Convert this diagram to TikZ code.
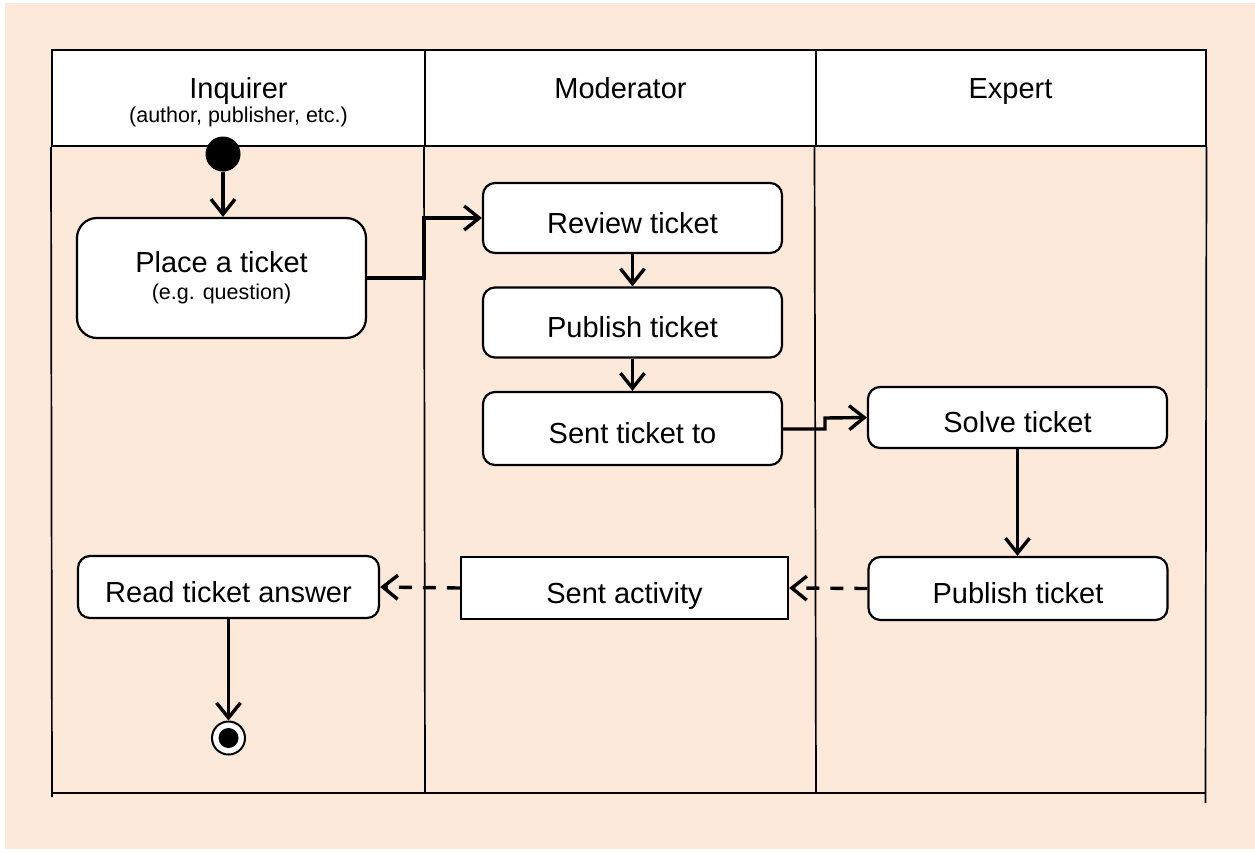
\documentclass[tikz,border=0pt]{standalone}
\usepackage{fontspec}
\setmainfont{Liberation Sans}
\usetikzlibrary{arrows.meta,positioning}

\definecolor{peach}{RGB}{252,233,218}
\newcommand{\bigtxt}{\fontsize{29}{33}\selectfont}
\newcommand{\smalltxt}{\fontsize{21.5}{24}\selectfont}

\tikzset{
  lanehead/.style={draw, line width=2pt, fill=white, inner sep=0pt},
  lanetxt/.style={anchor=base, inner sep=0pt, font=\bigtxt},
  subtxt/.style={anchor=base, inner sep=0pt, font=\smalltxt},
  boxbase/.style={draw, line width=2.2pt, fill=white, rounded corners=12pt,
    minimum width=299pt, minimum height=70pt, inner sep=0pt, font=\bigtxt},
  activity/.style={boxbase, text height=30pt, text depth=0pt},
  flow/.style={line width=3.4pt, -{Straight Barb[length=15pt,width=24pt,line width=3.4pt]}},
  msg/.style={flow, dash pattern=on 13pt off 11pt},
  lane/.style={line width=1.7pt}
}

\begin{document}
\begin{tikzpicture}[x=1pt, y=-1pt]
\useasboundingbox (0,0) rectangle (1255,852);
\fill[white] (0,0) rectangle (1255,852);
\fill[peach] (5,3) rectangle (1255,849);

% swimlanes
\node[lanehead, minimum width=373pt, minimum height=96pt] (inq) at (238.5,98) {};
\node[lanehead, minimum width=391pt, minimum height=96pt] (mod) at (620.5,98) {};
\node[lanehead, minimum width=390pt, minimum height=96pt] (exp) at (1010.5,98) {};
\node[lanetxt] (inqlbl) at (inq.center) {Inquirer};
\node[subtxt] (inqsub) at ([yshift=-24pt]inq.center) {(author, publisher, etc.)};
\node[lanetxt] (modlbl) at (mod.center) {Moderator};
\node[lanetxt] (explbl) at (exp.center) {Expert};

\draw[lane] (inq.south west) -- (52,797);
\draw[lane] (mod.south west) -- (425,793);
\draw[lane] (exp.south west) -- (816,793);
\draw[lane] (exp.south east) -- (1205.5,803);
\draw[lane] (52,793) -- (1205.5,793);

% activities
\node[boxbase, minimum width=289pt, minimum height=120pt, rounded corners=20pt, align=center]
  (place) at (221.5,278) {Place a ticket\\[-6pt]{\smalltxt (e.g. question)}};
\node[activity] (review) at (632.5,218) {Review ticket};
\node[activity] (publish) at (632.5,322.5) {Publish ticket};
\node[activity, minimum height=73pt] (sent) at (632.5,428.5) {Sent ticket to};
\node[activity, minimum height=61pt] (solve) at (1017.5,417.5) {Solve ticket};
\node[activity, minimum height=63pt] (pubexp) at (1018,588.5) {Publish ticket};
\node[activity, rounded corners=0pt, minimum width=327pt, minimum height=62pt] (sentact) at (624.5,588) {Sent activity};
\node[activity, minimum width=301pt, minimum height=62pt] (read) at (228.5,587) {Read ticket answer};

% start and end
\node[circle, fill=black, minimum size=35pt, inner sep=0pt] (start) at (223,154) {};
\node[circle, draw, line width=2pt, fill=white, minimum size=33pt, inner sep=0pt] (stop) at (228.5,738) {};
\node[circle, fill=black, minimum size=20pt, inner sep=0pt] (stopdot) at (stop.center) {};

% flows
\draw[flow] (start) -- (start |- place.north);
\draw[flow] (place.east) -- (424,278) -- (424,218) -- (review.west);
\draw[flow] (review) -- (publish);
\draw[flow] (publish) -- (sent);
\draw[flow] (sent.east |- 0,429) -- (825,429) -- (825,418) -- (solve.west);
\draw[flow] (solve.south) -- (solve.south |- pubexp.north);
\draw[msg] (pubexp.west) -- (sentact.east);
\draw[msg] (sentact.west) -- (read.east);
\draw[flow] (read.south) -- (stop.north);
\end{tikzpicture}
\end{document}
